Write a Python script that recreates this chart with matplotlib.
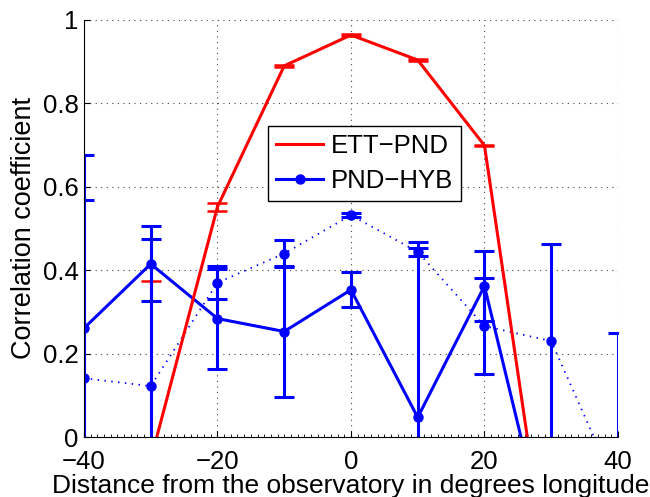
import numpy as np
import matplotlib
matplotlib.use('Agg')
import matplotlib.pyplot as plt
from matplotlib.lines import Line2D
from matplotlib.ticker import MultipleLocator

plt.rcParams['font.family'] = ['Liberation Sans', 'DejaVu Sans']

# distance from the observatory (degrees longitude)
lon = [-40, -30, -20, -10, 0, 10, 20, 30, 40]

# ETT-PND correlation and error
ett_pnd = [-0.60, -0.055, 0.552, 0.890, 0.964, 0.904, 0.699, -0.39, -0.70]
ett_pnd_err = [0.10, 0.43, 0.010, 0.002, 0.002, 0.002, 0.002, 0.10, 0.10]

# PND-HYB correlation and error (solid)
pnd_hyb = [0.261, 0.415, 0.284, 0.253, 0.353, 0.047, 0.362, -0.30, -0.50]
pnd_hyb_err = [0.415, 0.09, 0.12, 0.156, 0.042, 0.42, 0.083, 0.20, 0.20]

# second PND-HYB estimate (dotted)
pnd_hyb2 = [0.141, 0.122, 0.370, 0.440, 0.532, 0.444, 0.266, 0.230, -0.13]
pnd_hyb2_err = [0.427, 0.352, 0.040, 0.033, 0.005, 0.010, 0.115, 0.234, 0.38]

fig = plt.figure(figsize=(6.5, 4.97), dpi=100)
ax = fig.add_axes([0.1292, 0.1207, 0.8215, 0.8391])

ax.errorbar(lon, pnd_hyb, yerr=pnd_hyb_err, color='blue', lw=2.2,
            marker='o', ms=6.5, elinewidth=2.2, capsize=7.5, capthick=2.2)
ax.errorbar(lon, ett_pnd, yerr=ett_pnd_err, color='red', lw=2.2,
            elinewidth=2.2, capsize=7, capthick=1.8)
ax.errorbar(lon, pnd_hyb2, yerr=pnd_hyb2_err, color='blue', fmt='o', ms=6.5,
            elinewidth=2.2, capsize=7.5, capthick=2.2)
ax.plot(lon, pnd_hyb2, color='blue', ls=(0, (0.8, 3)), lw=1.3)

ax.set_xlim(-40, 40)
ax.set_ylim(0, 1)
ax.set_xticks([-40, -20, 0, 20, 40])
ax.set_yticks([0, 0.2, 0.4, 0.6, 0.8, 1])
ax.set_yticklabels(['0', '0.2', '0.4', '0.6', '0.8', '1'])
ax.xaxis.set_minor_locator(MultipleLocator(1))
ax.tick_params(direction='in', labelsize=18.5, length=4, width=0.8, pad=4)
ax.tick_params(axis='x', which='major', pad=9)
ax.tick_params(which='minor', direction='in', length=2, width=0.6)
ax.spines['top'].set_visible(False)
ax.spines['right'].set_visible(False)
ax.grid(True, which='major', linestyle=(0, (1, 4)), color='#444444', lw=0.8)

ax.set_xlabel('Distance from the observatory in degrees longitude', fontsize=19, labelpad=0)
ax.set_ylabel('Correlation coefficient', fontsize=19.5, labelpad=4)

handles = [Line2D([], [], color='red', lw=2.2),
           Line2D([], [], color='blue', lw=2.2, marker='o', ms=6.5)]
leg = ax.legend(handles, ['ETT\u2212PND', 'PND\u2212HYB'],
                loc='upper left', bbox_to_anchor=(0.345, 0.746), fontsize=18.5,
                fancybox=False, framealpha=1, edgecolor='black',
                borderpad=0.3, handlelength=1.85, labelspacing=0.45,
                handletextpad=0.3, borderaxespad=0)
leg.get_frame().set_linewidth(1.0)

fig.savefig('out.png', dpi=100)
print("plot saved")
